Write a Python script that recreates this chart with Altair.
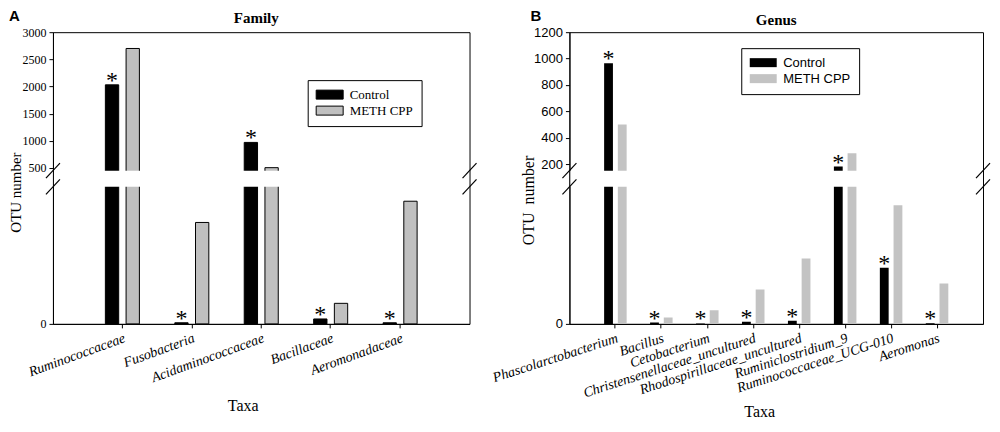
import altair as alt
import pandas as pd

# ---------------- data ----------------
groups = ["Control", "METH CPP"]

family_taxa = ["Ruminococcaceae", "Fusobacteria", "Acidaminococcaceae",
               "Bacillaceae", "Aeromonadaceae"]
family_control = [2030, 0.8, 970, 3.6, 0.8]
family_meth = [2700, 74, 505, 15, 89.5]

genus_taxa = ["Phascolarctobacterium", "Bacillus", "Cetobacterium",
              "Christensenellaceae_uncultured", "Rhodospirillaceae_uncultured",
              "Ruminiclostridium_9", "Ruminococcaceae_UCG-010", "Aeromonas"]
genus_control = [965, 1.0, 0.3, 1.5, 2.2, 181, 41, 0.5]
genus_meth = [500, 4.7, 10, 25, 47.7, 282, 86.5, 29.5]

family_ticks = [0, 500, 1000, 1500, 2000, 2500, 3000]
genus_ticks = [0, 200, 400, 600, 800, 1000, 1200]

# broken axis: lower segment 0..100, upper segment from break value to max
family_domain = [0, 100, 450, 3000]
genus_domain = [0, 100, 150, 1200]

SERIF = "Liberation Serif"
SANS = "Liberation Sans"
H = 292
LOW_TOP = 154.8
UP_BOT = 138.6
BAR_PATH = "M-1,-0.75H3.5V0.75H-1Z"


def panel(letter, title, taxa, control, meth, domain, ticks, width,
          gray, tick_font, tick_size, bar_stroke, legend_font, legend_xy,
          label_angle, ytitle, ytitle_size, ytitle_x, ytitle_y, xtitle_y,
          letter_x, title_dx, title_y):
    rows = []
    for t, c, m in zip(taxa, control, meth):
        rows.append({"taxon": t, "group": "Control", "value": c})
        rows.append({"taxon": t, "group": "METH CPP", "value": m})
    df = pd.DataFrame(rows)
    stars = df[df["group"] == "Control"].copy()

    xsc = alt.Scale(domain=taxa, paddingInner=0.51, paddingOuter=0.755)
    osc = alt.Scale(domain=groups, paddingInner=0.357)
    ysc = alt.Scale(domain=domain, range=[H, LOW_TOP, UP_BOT, 0],
                    nice=False, zero=False)

    xaxis = alt.Axis(title="Taxa", labelAngle=label_angle, labelAlign="right",
                     labelBaseline="top", labelFont=SERIF,
                     labelFontStyle="italic", labelFontSize=14,
                     labelColor="black", labelPadding=3, labelLimit=400,
                     tickSize=4, tickColor="black", domainColor="black",
                     titleFont=SERIF, titleFontSize=16,
                     titleFontWeight="normal", titleColor="black",
                     titleX=190, titleY=xtitle_y, titleBaseline="top",
                     titleAlign="center", grid=False)
    yaxis = alt.Axis(title=ytitle, values=ticks, format="d",
                     labelFont=tick_font, labelFontSize=tick_size,
                     labelColor="black", tickSize=4, tickColor="black",
                     domainColor="black", labelPadding=3, titleFont=SERIF,
                     titleFontSize=ytitle_size, titleFontWeight="normal",
                     titleColor="black", titleX=ytitle_x, titleY=ytitle_y,
                     titleBaseline="bottom", grid=False)

    legend = alt.Legend(orient="none", legendX=legend_xy[0],
                        legendY=legend_xy[1], title=None,
                        strokeColor="black", fillColor="white", padding=8,
                        labelFont=legend_font, labelFontSize=13,
                        labelColor="black", symbolType=BAR_PATH,
                        symbolSize=144, symbolStrokeColor="black",
                        symbolStrokeWidth=bar_stroke, labelOffset=21,
                        rowPadding=2, symbolOpacity=1, direction="vertical")

    bars = alt.Chart(df).mark_bar(
        stroke="black", strokeWidth=bar_stroke, clip=True
    ).encode(
        x=alt.X("taxon:N", sort=taxa, scale=xsc, axis=xaxis),
        xOffset=alt.XOffset("group:N", scale=osc, sort=groups),
        y=alt.Y("value:Q", scale=ysc, axis=yaxis),
        y2=alt.datum(0),
        color=alt.Color("group:N", sort=groups,
                        scale=alt.Scale(domain=groups, range=["#000000", gray]),
                        legend=legend),
    )

    star = alt.Chart(stars).mark_text(
        text="*", font=SERIF, fontSize=24, baseline="alphabetic", dy=3,
        color="black"
    ).encode(
        x=alt.X("taxon:N", sort=taxa, scale=xsc),
        xOffset=alt.XOffset("group:N", scale=osc, sort=groups),
        y=alt.Y("value:Q", scale=ysc),
    )

    one = pd.DataFrame({"k": [0]})
    gap = alt.Chart(one).mark_rect(color="white").encode(
        x=alt.value(1), x2=alt.value(width - 1),
        y=alt.datum(domain[1]), y2=alt.datum(domain[2]),
    )
    breaks = []
    for xc in (0, width):
        for yc in (UP_BOT, LOW_TOP):
            breaks.append(
                alt.Chart(one).mark_rule(color="black", strokeWidth=1.2).encode(
                    x=alt.value(xc - 7), x2=alt.value(xc + 7),
                    y=alt.value(yc + 7.5), y2=alt.value(yc - 7.5),
                )
            )
    lab = alt.Chart(one).mark_text(
        text=letter, font=SANS, fontWeight="bold", fontSize=15,
        align="left", baseline="top", color="black"
    ).encode(x=alt.value(letter_x), y=alt.value(-23))
    ttl = alt.Chart(one).mark_text(
        text=title, font=SERIF, fontWeight="bold", fontSize=15,
        align="center", baseline="alphabetic", color="black"
    ).encode(x=alt.value(width / 2 + title_dx), y=alt.value(title_y))

    return alt.layer(bars, star, gap, *breaks, lab, ttl).properties(
        width=width, height=H)


pa = panel("A", "Family", family_taxa, family_control, family_meth,
           family_domain, family_ticks, 417, "#c0c0c0", SERIF, 12, 1,
           SERIF, (255, 48), -20, "OTU number", 15, -29, 160, 74, -44, -5, -9)
pb = panel("B", "Genus", genus_taxa, genus_control, genus_meth,
           genus_domain, genus_ticks, 414, "#c3c3c3", SANS, 13, 0,
           SANS, (172, 16), -18, "OTU\u00a0\u00a0number", 16,
           -33, 168, 80, -39, 0, -7)

chart = alt.hconcat(pa, pb, spacing=100, bounds="flush").resolve_scale(
    x="independent", y="independent", color="independent",
    xOffset="independent"
).properties(padding=0).configure_view(stroke="black", strokeWidth=1)

chart.save("out.html", embed_options={"renderer": "svg", "actions": False})
